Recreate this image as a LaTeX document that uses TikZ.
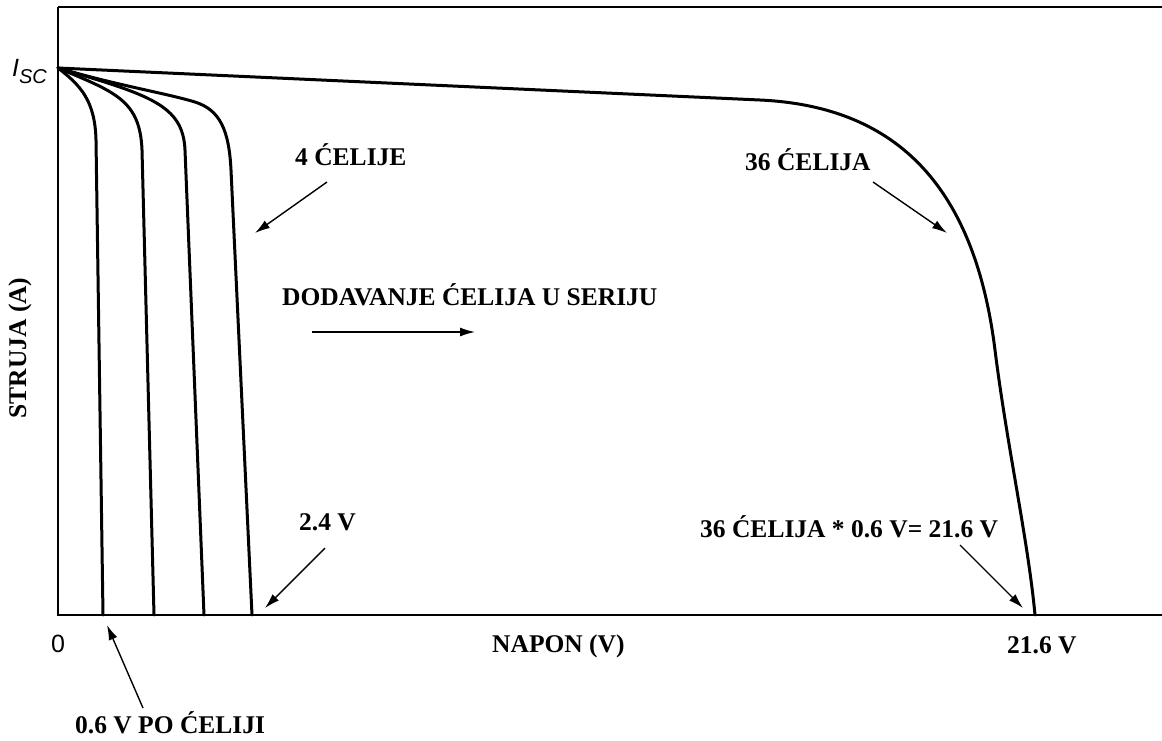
\documentclass[tikz,border=0pt]{standalone}
\usepackage{fontspec}
\setmainfont{Liberation Serif}
\setsansfont{Liberation Sans}
\usetikzlibrary{arrows.meta}
\tikzset{
  lbl/.style={font=\bfseries\fontsize{25.5}{28}\selectfont, inner sep=0pt},
  axlbl/.style={font=\sffamily\fontsize{25}{28}\selectfont, inner sep=0pt},
  curve/.style={line width=3pt, line join=round, line cap=round},
  ptr/.style={line width=1.4pt, -{Latex[length=15pt,width=9pt]}}
}

\begin{document}
\begin{tikzpicture}[x=1pt,y=-1pt]
	\useasboundingbox (0,0) rectangle (1162,740);
%	axes
	\coordinate (O) at (58,615);
	\coordinate (ytop) at (58,7);
	\coordinate (topR) at (1162,7);
	\coordinate (xend) at (1162,615);
	\draw [line width=2pt] (ytop) -- (topR);
	\draw [line width=1.5pt] (ytop) -- (O) -- (xend);
%	1, 2, 3 and 4 cells
	\coordinate (isc0) at (58,68);
	\draw [curve] (isc0) .. controls (80,85) and (95,100) .. (96,140) -- (103,615);
	\draw [curve] (isc0) .. controls (115,92) and (140,100) .. (142,150) -- (154,615);
	\draw [curve] (isc0) .. controls (150,95) and (183,105) .. (185,150) -- (204,615);
	\draw [curve] (isc0) .. controls (120,86) and (165,93) .. (195,102) .. controls (220,110) and (229,130) .. (231,170) -- (252,615);
%	36 cells
	\draw [curve] (isc0) -- (760,100) .. controls (900,106.5) and (975,190) .. (995,350) .. controls (1007,446) and (1028,540) .. (1035,615);
%	labels
	\node [axlbl, anchor=east] (isc) at (47,71) {\itshape I\raisebox{-7pt}{\fontsize{20}{20}\selectfont SC}};
	\node [axlbl, anchor=base] (zero) at (58,652) {0};
	\node [lbl, anchor=base west] (cell4) at (295,165) {4 ĆELIJE};
	\node [lbl, anchor=base west] (serija) at (282,305) {DODAVANJE ĆELIJA U SERIJU};
	\node [lbl, anchor=base west] (cell36) at (745,170) {36 ĆELIJA};
	\node [lbl, anchor=base west] (v24) at (299,530) {2.4 V};
	\node [lbl, anchor=base west] (v216eq) at (700,537) {36 ĆELIJA * 0.6 V= 21.6 V};
	\node [lbl, anchor=base west] (v216) at (1007,653) {21.6 V};
	\node [lbl, anchor=base west] (napon) at (492,652) {NAPON (V)};
	\node [lbl, anchor=base west] (v06) at (75,733) {0.6 V PO ĆELIJI};
	\node [lbl, rotate=90] (struja) at (20,348) {STRUJA (A)};
%	pointers
	\coordinate (p4a) at (327,182);   \coordinate (p4b) at (255,233);
	\coordinate (psa) at (312,332);   \coordinate (psb) at (475,332);
	\coordinate (p36a) at (873,182);  \coordinate (p36b) at (947,233);
	\coordinate (p24a) at (325,548);  \coordinate (p24b) at (265,608);
	\coordinate (peqa) at (960,545);  \coordinate (peqb) at (1023,608);
	\coordinate (p06a) at (143,708);  \coordinate (p06b) at (107,625);
	\draw [ptr] (p4a) -- (p4b);
	\draw [ptr] (psa) -- (psb);
	\draw [ptr] (p36a) -- (p36b);
	\draw [ptr] (p24a) -- (p24b);
	\draw [ptr] (peqa) -- (peqb);
	\draw [ptr] (p06a) -- (p06b);
\end{tikzpicture}
\end{document}
